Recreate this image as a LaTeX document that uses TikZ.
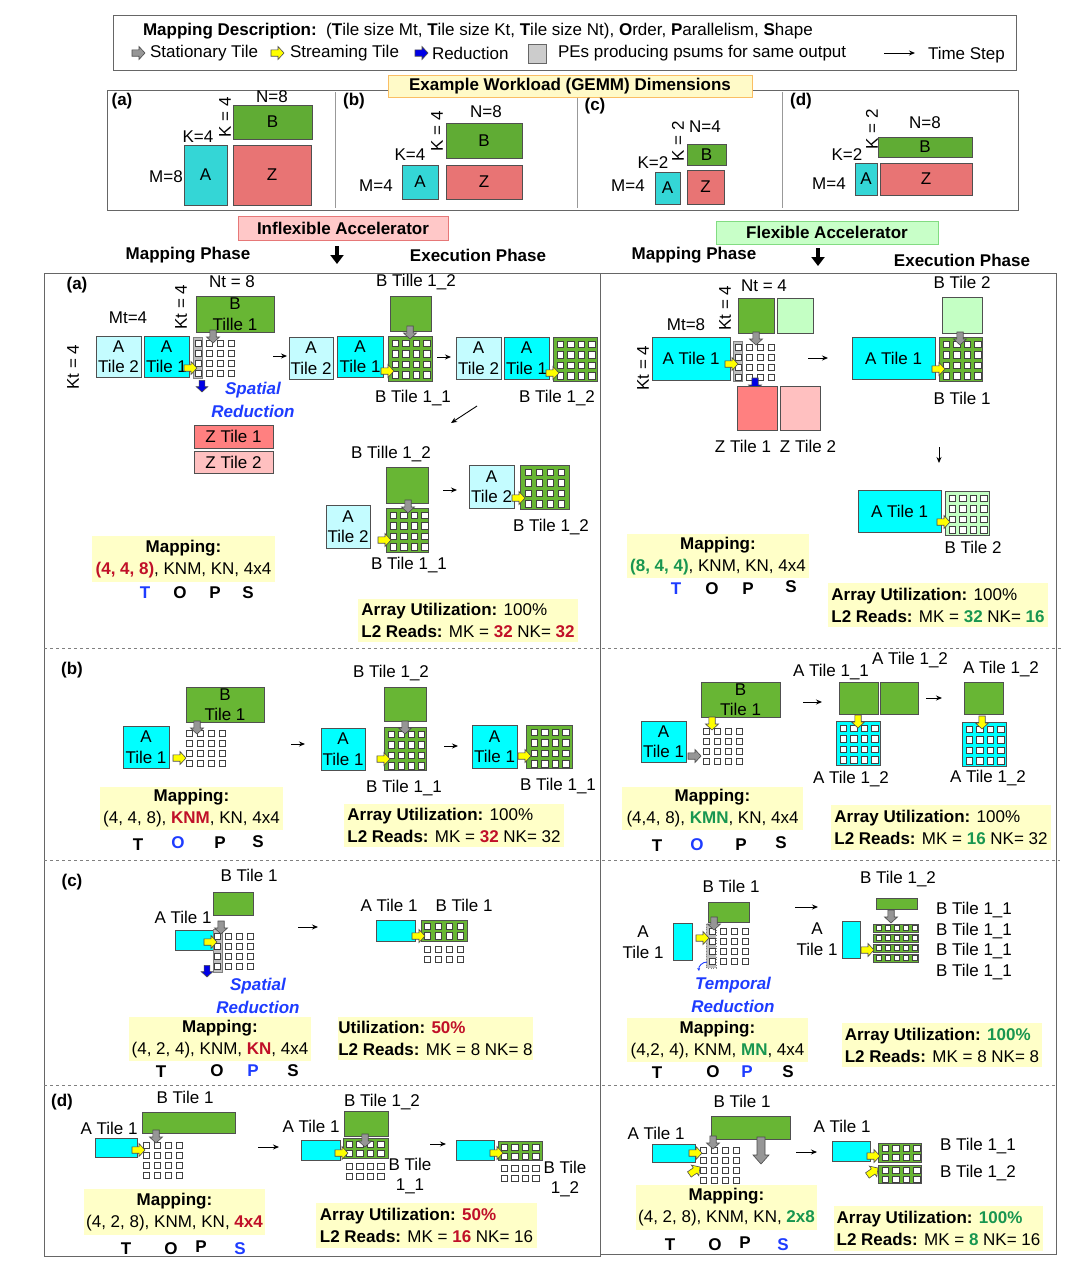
\documentclass[tikz,border=0pt]{standalone}
\usepackage{fontspec}
\setmainfont{Liberation Sans}
\usetikzlibrary{arrows.meta}
\definecolor{bgr}{RGB}{104,182,52}
\definecolor{bgrl}{RGB}{196,255,196}
\definecolor{acy}{RGB}{0,255,255}
\definecolor{acyl}{RGB}{196,252,255}
\definecolor{zr}{RGB}{255,128,128}
\definecolor{zrl}{RGB}{255,192,192}
\definecolor{wa}{RGB}{52,214,214}
\definecolor{wb}{RGB}{96,172,52}
\definecolor{wz}{RGB}{232,116,116}
\definecolor{yb}{RGB}{255,255,200}
\definecolor{dred}{RGB}{192,16,40}
\definecolor{dgrn}{RGB}{24,150,80}
\definecolor{tblue}{RGB}{30,60,255}
\definecolor{edge}{RGB}{80,80,80}
\definecolor{gar}{RGB}{150,150,150}
\definecolor{yar}{RGB}{255,255,0}
\definecolor{bar}{RGB}{0,0,230}
\newcommand{\fs}{\fontsize{17}{20.5}\selectfont}
\newcommand{\fsb}{\fontsize{17}{22}\selectfont}
\tikzset{
  every node/.style={font=\fs, inner sep=0pt, outer sep=0pt},
  tb/.style={draw=edge, line width=0.9pt, align=center},
  pe/.style={fill=white, draw=black!75, line width=0.7pt},
  ts/.style={-{Stealth[length=6pt,width=5pt]}, line width=0.9pt},
  ybx/.style={fill=yb, align=center, font=\fsb},
  ubx/.style={fill=yb, align=left, font=\fsb},
  tops/.style={font=\fs\bfseries},
  sred/.style={text=tblue, font=\fs\bfseries\itshape},
  psum/.style={fill=black!25, draw=black!50, line width=0.7pt},
  frame/.style={draw=black!60, line width=1pt},
  harr/.style={-{Triangle[length=9pt,width=13pt]}, line width=3.5pt},
}
\newcommand{\bx}[7]{\node[tb, fill=#6, minimum width={(#4-#2)*1pt}, minimum height={(#5-#3)*1pt}] (#1) at ({(#2+#4)/2},{(#3+#5)/2}) {#7};}
\newcommand{\yb}[7]{\node[#6, minimum width={(#4-#2)*1pt}, minimum height={(#5-#3)*1pt}] (#1) at ({(#2+#4)/2},{(#3+#5)/2}) {#7};}
\newcommand{\grid}[6]{\foreach \ii in {1,...,#3}{\foreach \jj in {1,...,#4}{\draw[pe] ({#1+(\ii-1)*#5},{#2+(\jj-1)*#6}) rectangle ++(6.5,6.5);}}}
\newcommand{\barr}[5]{\draw[fill=#4, draw=black!70, line width=0.6pt, shift={(#1,#2)}, rotate=#3, scale=#5] (0,0) -- (-6,-6.5) -- (-6,-3.2) -- (-13,-3.2) -- (-13,3.2) -- (-6,3.2) -- (-6,6.5) -- cycle;}
\begin{document}
\begin{tikzpicture}[x=1pt,y=-1pt]
\useasboundingbox (0,0) rectangle (1090,1267);
\fill[white] (0,0) rectangle (1090,1267);
% ---------------- legend
\draw[frame] (113,15) rectangle (1016,70);
\node[anchor=west] (desc) at (143,31) {\textbf{Mapping Description:}\ \ (\textbf{T}ile size Mt, \textbf{T}ile size Kt, \textbf{T}ile size Nt), \textbf{O}rder, \textbf{P}arallelism, \textbf{S}hape};
\barr{145}{53}{0}{gar}{1}
\node[anchor=west] (lg1) at (150,53) {Stationary Tile};
\barr{284}{53}{0}{yar}{1}
\node[anchor=west] (lg2) at (290,53) {Streaming Tile};
\barr{428}{53}{0}{bar}{1}
\node[anchor=west] (lg3) at (432,53) {Reduction};
\draw[fill=black!20, draw=black!60] (528,44) rectangle (546,63);
\node[anchor=west] (lg4) at (558,53) {PEs producing psums for same output};
\draw[ts] (884,53) -- (915,53);
\node[anchor=west] (lg5) at (928,55) {Time Step};
% ---------------- workload
\draw[frame] (107,90) rectangle (1018,210);
\draw[black!40, line width=0.8pt] (335,92) -- (335,208) (577,92) -- (577,208) (782,92) -- (782,208);
\node[fill={rgb,255:red,255;green,250;blue,200}, draw={rgb,255:red,250;green,190;blue,100}, line width=0.8pt, minimum width=364, minimum height=22] (wtitle) at (570,86) {\textbf{Example Workload (GEMM) Dimensions}};
\node (wla) at (122,101) {\textbf{(a)}};
\node (wlb) at (354,101) {\textbf{(b)}};
\node (wlc) at (595,106) {\textbf{(c)}};
\node (wld) at (801,101) {\textbf{(d)}};
% (a)
\bx{waB}{233}{105}{312}{139}{wb}{B}
\node (waN) at (272,97) {N=8};
\node[rotate=90] (waK1) at (225,117) {K = 4};
\bx{waA}{184}{145}{227}{205}{wa}{A}
\node (waK2) at (198,137) {K=4};
\node (waM) at (166,177) {M=8};
\bx{waZ}{233}{145}{311}{205}{wz}{Z}
% (b)
\bx{wbB}{446}{123}{522}{158}{wb}{B}
\node (wbN) at (486,112) {N=8};
\node[rotate=90] (wbK1) at (437,131) {K = 4};
\bx{wbA}{402}{165}{438}{199}{wa}{A}
\node (wbK2) at (410,155) {K=4};
\node (wbM) at (376,186) {M=4};
\bx{wbZ}{446}{165}{522}{199}{wz}{Z}
% (c)
\bx{wcB}{687}{144}{726}{165}{wb}{B}
\node (wcN) at (705,127) {N=4};
\node[rotate=90] (wcK1) at (678,141) {K = 2};
\bx{wcA}{655}{172}{680}{204}{wa}{A}
\node (wcK2) at (653,163) {K=2};
\node (wcM) at (628,186) {M=4};
\bx{wcZ}{687}{170}{724}{204}{wz}{Z}
% (d)
\bx{wdB}{878}{137}{972}{157}{wb}{B}
\node (wdN) at (925,123) {N=8};
\node[rotate=90] (wdK1) at (872,129) {K = 2};
\bx{wdA}{855}{163}{877}{195}{wa}{A}
\node (wdK2) at (847,155) {K=2};
\node (wdM) at (829,184) {M=4};
\bx{wdZ}{880}{163}{972}{195}{wz}{Z}
% ---------------- headers
\node[fill={rgb,255:red,255;green,200;blue,200}, draw={rgb,255:red,230;green,120;blue,120}, line width=0.8pt, minimum width=210, minimum height=24] (infl) at (343,228) {\textbf{Inflexible Accelerator}};
\node (mp1) at (188,255) {\textbf{Mapping Phase}};
\node (ep1) at (478,255) {\textbf{Execution Phase}};
\draw[harr] (337,246) -- (337,264);
\node[fill={rgb,255:red,200;green,255;blue,200}, draw={rgb,255:red,130;green,220;blue,130}, line width=0.8pt, minimum width=222, minimum height=23] (flex) at (827,232.5) {\textbf{Flexible Accelerator}};
\node (mp2) at (694,255) {\textbf{Mapping Phase}};
\node (ep2) at (962,260) {\textbf{Execution Phase}};
\draw[harr] (818,248) -- (818,266);
% ---------------- frames
\draw[frame] (44,273) rectangle (600,1256);
\draw[frame] (600,273) rectangle (1056,1254);
\draw[dashed, black!50, line width=0.8pt] (44,648) -- (1062,648);
\draw[dashed, black!50, line width=0.8pt] (44,860) -- (1060,860);
\draw[dashed, black!50, line width=0.8pt] (44,1085) -- (1056,1085);
% ================= (a) left
\node (la) at (77,285) {\textbf{(a)}};
\node (aNt) at (232,282) {Nt = 8};
\node[rotate=90] (aKt1) at (181,307) {Kt = 4};
\node (aMt) at (128,318) {Mt=4};
\node[rotate=90] (aKt2) at (73,367) {Kt = 4};
\bx{a1B}{196}{296}{274}{332}{bgr}{B\\Tille 1}
\bx{a1A2}{96}{336}{141}{377}{acyl}{A\\Tile 2}
\bx{a1A1}{144}{336}{189}{377}{acy}{A\\Tile 1}
\draw[psum] (193,337) rectangle (202,378);
\grid{195}{340}{4}{4}{11}{10}
\barr{213}{343}{-90}{gar}{1}
\barr{197}{368}{0}{yar}{1}
\barr{202}{392}{-90}{bar}{0.9}
\node[sred] (asr1) at (253,390) {Spatial};
\node[sred] (asr2) at (253,411) {Reduction};
\bx{a1Z1}{194}{425}{273}{448}{zr}{Z Tile 1}
\bx{a1Z2}{194}{451}{273}{473}{zrl}{Z Tile 2}
\draw[ts] (273,356) -- (287,356);
\bx{a2A2}{289}{337}{333}{379}{acyl}{A\\Tile 2}
\bx{a2A1}{337}{336}{383}{377}{acy}{A\\Tile 1}
\bx{a2G}{388}{336}{432}{381}{bgr}{}
\grid{392}{340}{4}{4}{10.5}{10.5}
\bx{a2B}{390}{296}{431}{331}{bgr}{}
\node (a2Bl) at (416,282) {B Tille 1\_2};
\barr{410}{339}{-90}{gar}{1}
\barr{394}{371}{0}{yar}{1}
\node (a2Gl) at (413,398) {B Tile 1\_1};
\draw[ts] (437,357) -- (451,357);
\bx{a3A2}{456}{337}{501}{379}{acyl}{A\\Tile 2}
\bx{a3A1}{504}{337}{549}{379}{acy}{A\\Tile 1}
\bx{a3G}{553}{337}{597}{381}{bgr}{}
\grid{557}{341}{4}{4}{10.5}{10.5}
\barr{559}{373}{0}{yar}{1}
\node (a3Gl) at (557,398) {B Tile 1\_2};
\draw[ts] (477,406) -- (451,423);
\node (a4Bl) at (391,454) {B Tille 1\_2};
\bx{a4B}{386}{467}{428}{503}{bgr}{}
\bx{a4G}{386}{508}{428}{552}{bgr}{}
\grid{390}{512}{4}{4}{10.5}{10.5}
\barr{408}{513}{-90}{gar}{1}
\bx{a4A}{326}{505}{370}{548}{acyl}{A\\Tile 2}
\barr{391}{540}{0}{yar}{1}
\node (a4Gl) at (409,565) {B Tile 1\_1};
\draw[ts] (443,490) -- (457,490);
\bx{a5A}{469}{465}{514}{508}{acyl}{A\\Tile 2}
\bx{a5G}{520}{465}{569}{509}{bgr}{}
\grid{525}{469}{4}{4}{11}{10.5}
\barr{525}{498}{0}{yar}{1}
\node (a5Gl) at (551,527) {B Tile 1\_2};
\yb{amap}{92}{536}{275}{582}{ybx}{\textbf{Mapping:}\\\textcolor{dred}{\textbf{(4, 4, 8)}}, KNM, KN, 4x4}
\node[tops, text=tblue] (aT) at (145,593) {T};
\node[tops] (aO) at (180,593) {O};
\node[tops] (aP) at (215,593) {P};
\node[tops] (aS) at (248,593) {S};
\yb{autil}{358}{599}{578}{642}{ubx}{\textbf{Array Utilization:} 100\%\\\textbf{L2 Reads:} MK = \textcolor{dred}{\textbf{32}} NK= \textcolor{dred}{\textbf{32}}}
% ================= (a) right
\node (rNt) at (764,286) {Nt = 4};
\node[rotate=90] (rKt1) at (725,308) {Kt = 4};
\bx{r1B1}{738}{298}{774}{333}{bgr}{}
\bx{r1B2}{777}{298}{813}{333}{bgrl}{}
\node (rMt) at (686,325) {Mt=8};
\node[rotate=90] (rKt2) at (643,368) {Kt = 4};
\bx{r1A}{652}{337}{730}{380}{acy}{A Tile 1}
\draw[psum] (733,341) rectangle (742,381);
\grid{735}{344}{4}{4}{11}{10}
\barr{756}{345}{-90}{gar}{1}
\barr{738}{364}{0}{yar}{1}
\barr{755}{391}{-90}{bar}{1}
\bx{r1Z1}{737}{386}{777}{430}{zr}{}
\bx{r1Z2}{780}{386}{820}{430}{zrl}{}
\node (rZ1l) at (743,446) {Z Tile 1};
\node (rZ2l) at (808,446) {Z Tile 2};
\draw[ts] (808,358) -- (828,358);
\bx{r2B}{942}{297}{982}{333}{bgrl}{}
\node (r2Bl) at (962,282) {B Tile 2};
\bx{r2A}{852}{337}{935}{379}{acy}{A Tile 1}
\bx{r2G}{939}{337}{982}{381}{bgr}{}
\grid{943}{341}{4}{4}{10.5}{10.5}
\barr{960}{345}{-90}{gar}{1}
\barr{945}{369}{0}{yar}{1}
\node (r2Gl) at (962,398) {B Tile 1};
\draw[ts] (939,447) -- (939,463);
\bx{r3A}{858}{490}{941}{532}{acy}{A Tile 1}
\bx{r3G}{945}{491}{989}{535}{bgrl}{}
\grid{949}{495}{4}{4}{10.5}{10.5}
\barr{950}{522}{0}{yar}{1}
\node (r3Gl) at (973,547) {B Tile 2};
\yb{rmap}{627}{534}{809}{578}{ybx}{\textbf{Mapping:}\\\textcolor{dgrn}{\textbf{(8, 4, 4)}}, KNM, KN, 4x4}
\node[tops, text=tblue] (rT) at (676,589) {T};
\node[tops] (rO) at (712,589) {O};
\node[tops] (rP) at (748,589) {P};
\node[tops] (rS) at (791,587) {S};
\yb{rutil}{828}{583}{1048}{627}{ubx}{\textbf{Array Utilization:} 100\%\\\textbf{L2 Reads:} MK = \textcolor{dgrn}{\textbf{32}} NK= \textcolor{dgrn}{\textbf{16}}}
% ================= (b) left
\node (lb) at (72,670) {\textbf{(b)}};
\bx{b1B}{186}{687}{264}{722}{bgr}{B\\Tile 1}
\bx{b1A}{123}{726}{169}{768}{acy}{A\\Tile 1}
\grid{186}{730}{4}{4}{11}{10}
\barr{197}{734}{-90}{gar}{1}
\barr{186}{758}{0}{yar}{1}
\draw[ts] (291,744) -- (305,744);
\bx{b2A}{321}{728}{365}{770}{acy}{A\\Tile 1}
\bx{b2G}{384}{727}{426}{770}{bgr}{}
\grid{388}{731}{4}{4}{10}{10.5}
\bx{b2B}{384}{687}{426}{721}{bgr}{}
\node (b2Bl) at (391,673) {B Tile 1\_2};
\barr{405}{734}{-90}{gar}{1}
\barr{390}{759}{0}{yar}{1}
\node (b2Gl) at (404,788) {B Tile 1\_1};
\draw[ts] (444,746) -- (458,746);
\bx{b3A}{472}{725}{517}{768}{acy}{A\\Tile 1}
\bx{b3G}{526}{725}{572}{768}{bgr}{}
\grid{531}{729}{4}{4}{10.5}{10.5}
\barr{531}{756}{0}{yar}{1}
\node (b3Gl) at (558,786) {B Tile 1\_1};
\yb{bmap}{100}{787}{283}{830}{ybx}{\textbf{Mapping:}\\(4, 4, 8), \textcolor{dred}{\textbf{KNM}}, KN, 4x4}
\node[tops] (bT) at (138,845) {T};
\node[tops, text=tblue] (bO) at (178,843) {O};
\node[tops] (bP) at (220,843) {P};
\node[tops] (bS) at (258,842) {S};
\yb{butil}{344}{804}{564}{847}{ubx}{\textbf{Array Utilization:} 100\%\\\textbf{L2 Reads:} MK = \textcolor{dred}{\textbf{32}} NK= 32}
% ================= (b) right
\bx{s1B}{701}{682}{780}{717}{bgr}{B\\Tile 1}
\bx{s1A}{641}{721}{686}{762}{acy}{A\\Tile 1}
\grid{703}{728}{4}{4}{11}{10}
\barr{712}{730}{-90}{yar}{1}
\barr{701}{756}{0}{gar}{1}
\draw[ts] (803,702) -- (822,702);
\node (s2l1) at (831,672) {A Tile 1\_1};
\node (s2l2) at (910,660) {A Tile 1\_2};
\bx{s2B1}{839}{682}{878}{714}{bgr}{}
\bx{s2B2}{880}{682}{918}{714}{bgr}{}
\bx{s2G}{836}{721}{880}{765}{acy}{}
\grid{840}{725}{4}{4}{10.5}{10.5}
\barr{858}{728}{-90}{yar}{1}
\node (s2Gl) at (851,779) {A Tile 1\_2};
\draw[ts] (926,698) -- (942,698);
\node (s3l) at (1001,669) {A Tile 1\_2};
\bx{s3B}{964}{682}{1003}{714}{bgr}{}
\bx{s3G}{962}{722}{1006}{766}{acy}{}
\grid{966}{726}{4}{4}{10.5}{10.5}
\barr{982}{729}{-90}{yar}{1}
\node (s3Gl) at (988,778) {A Tile 1\_2};
\yb{smap}{622}{787}{803}{830}{ybx}{\textbf{Mapping:}\\(4,4, 8), \textcolor{dgrn}{\textbf{KMN}}, KN, 4x4}
\node[tops] (sT) at (657,846) {T};
\node[tops, text=tblue] (sO) at (697,845) {O};
\node[tops] (sP) at (741,845) {P};
\node[tops] (sS) at (781,843) {S};
\yb{sutil}{831}{805}{1051}{850}{ubx}{\textbf{Array Utilization:} 100\%\\\textbf{L2 Reads:} MK = \textcolor{dgrn}{\textbf{16}} NK= 32}
% ================= (c) left
\node (lc) at (72,882) {\textbf{(c)}};
\node (c1Bl) at (249,875) {B Tile 1};
\bx{c1B}{213}{892}{253}{915}{bgr}{}
\node (c1Al) at (183,917) {A Tile 1};
\bx{c1A}{175}{930}{214}{950}{acy}{}
\draw[psum] (213,929) rectangle (222,972);
\grid{214}{933}{4}{4}{11}{10}
\barr{221}{934}{-90}{gar}{1}
\barr{217}{942}{0}{yar}{1}
\barr{207}{977}{-90}{bar}{0.9}
\node[sred] (csr1) at (258,986) {Spatial};
\node[sred] (csr2) at (258,1007) {Reduction};
\draw[ts] (298,927) -- (318,927);
\node (c2Al) at (389,905) {A Tile 1};
\node (c2Bl) at (464,905) {B Tile 1};
\bx{c2A}{376}{920}{415}{941}{acy}{}
\bx{c2G}{421}{920}{467}{941}{bgr}{}
\grid{424}{923}{4}{2}{11}{9.5}
\grid{424}{946}{4}{2}{11}{10}
\barr{425}{936}{0}{yar}{1}
\yb{cmap}{129}{1017}{311}{1061}{ybx}{\textbf{Mapping:}\\(4, 2, 4), KNM, \textcolor{dred}{\textbf{KN}}, 4x4}
\node[tops] (cT) at (161,1072) {T};
\node[tops] (cO) at (217,1071) {O};
\node[tops, text=tblue] (cP) at (253,1071) {P};
\node[tops] (cS) at (293,1071) {S};
\yb{cutil}{341}{1017}{530}{1060}{ubx}{\textbf{Utilization:} \textcolor{dred}{\textbf{50\%}}\\\textbf{L2 Reads:} MK = 8 NK= 8}
% ================= (c) right
\node (t1Bl) at (731,886) {B Tile 1};
\bx{t1B}{708}{902}{749}{922}{bgr}{}
\node[align=center] (t1Al) at (643,942) {A\\Tile 1};
\bx{t1A}{673}{923}{692}{960}{acy}{}
\draw[psum, dotted] (706,924) rectangle (716,968);
\grid{709}{928}{4}{4}{11}{10}
\barr{714}{930}{-90}{gar}{1}
\barr{709}{938}{0}{yar}{1}
\draw[tblue, -{Stealth[length=3pt,width=3pt]}, line width=0.9pt] (707,962) to[bend right=50] (699,971);
\node[sred] (tsr1) at (733,985) {Temporal};
\node[sred] (tsr2) at (733,1006) {Reduction};
\draw[ts] (795,907) -- (818,907);
\node[align=center] (t2Al) at (817,939) {A\\Tile 1};
\bx{t2A}{842}{921}{860}{958}{acy}{}
\bx{t2B}{876}{898}{917}{909}{bgr}{}
\node (t2Bl) at (898,879) {B Tile 1\_2};
\barr{891}{923}{-90}{gar}{1}
\foreach \yy in {924,934,944,954}{
  \draw[tb, fill=bgr] (873,\yy) rectangle (918,\yy+8);
  \foreach \xx in {876,885,894,903,912}{\draw[pe, line width=0.5pt] (\xx,\yy+1.5) rectangle ++(5,5);}
}
\barr{874}{950}{0}{yar}{1}
\node[anchor=west] (t3l1) at (936,910) {B Tile 1\_1};
\node[anchor=west] (t3l2) at (936,931) {B Tile 1\_1};
\node[anchor=west] (t3l3) at (936,951) {B Tile 1\_1};
\node[anchor=west] (t3l4) at (936,972) {B Tile 1\_1};
\yb{tmap}{627}{1018}{808}{1062}{ybx}{\textbf{Mapping:}\\(4,2, 4), KNM, \textcolor{dgrn}{\textbf{MN}}, 4x4}
\node[tops] (tT) at (657,1073) {T};
\node[tops] (tO) at (713,1072) {O};
\node[tops, text=tblue] (tP) at (747,1072) {P};
\node[tops] (tS) at (788,1072) {S};
\yb{tutil}{842}{1023}{1042}{1067}{ubx}{\textbf{Array Utilization:} \textcolor{dgrn}{\textbf{100\%}}\\\textbf{L2 Reads:} MK = 8 NK= 8}
% ================= (d) left
\node (ld) at (62,1102) {\textbf{(d)}};
\node (d1Bl) at (185,1097) {B Tile 1};
\bx{d1B}{142}{1112}{235}{1133}{bgr}{}
\node (d1Al) at (109,1128) {A Tile 1};
\bx{d1A}{95}{1138}{137}{1157}{acy}{}
\grid{143}{1142}{4}{4}{11}{10}
\barr{156}{1143}{-90}{gar}{1}
\barr{145}{1150}{0}{yar}{1}
\draw[ts] (258,1147) -- (279,1147);
\node (d2Bl) at (382,1102) {B Tile 1\_2};
\node (d2Al) at (311,1126) {A Tile 1};
\bx{d2B}{344}{1111}{388}{1136}{bgr}{}
\bx{d2A}{301}{1140}{340}{1160}{acy}{}
\bx{d2G}{343}{1138}{388}{1158}{bgr}{}
\grid{346}{1141}{4}{2}{10.5}{9}
\grid{346}{1163}{4}{2}{10.5}{10}
\barr{365}{1147}{-90}{gar}{1}
\barr{348}{1153}{0}{yar}{1}
\node[align=center] (d2Gl) at (410,1176) {B Tile\\1\_1};
\draw[ts] (430,1144) -- (446,1144);
\bx{d3A}{456}{1140}{494}{1160}{acy}{}
\bx{d3G}{498}{1141}{542}{1160}{bgr}{}
\grid{501}{1144}{4}{2}{10.5}{9}
\grid{501}{1165}{4}{2}{10.5}{10}
\barr{503}{1153}{0}{yar}{1}
\node[align=center] (d3Gl) at (565,1179) {B Tile\\1\_2};
\yb{dmap}{84}{1189}{265}{1235}{ybx}{\textbf{Mapping:}\\(4, 2, 8), KNM, KN, \textcolor{dred}{\textbf{4x4}}}
\node[tops] (dT) at (126,1249) {T};
\node[tops] (dO) at (171,1249) {O};
\node[tops] (dP) at (201,1247) {P};
\node[tops, text=tblue] (dS) at (240,1249) {S};
\yb{dutil}{316}{1203}{537}{1248}{ubx}{\textbf{Array Utilization:} \textcolor{dred}{\textbf{50\%}}\\\textbf{L2 Reads:} MK = \textcolor{dred}{\textbf{16}} NK= 16}
% ================= (d) right
\node (e1Bl) at (742,1101) {B Tile 1};
\bx{e1B}{711}{1116}{790}{1139}{bgr}{}
\node (e1Al) at (656,1133) {A Tile 1};
\bx{e1A}{652}{1144}{695}{1162}{acy}{}
\grid{700}{1147}{4}{4}{11}{10}
\barr{713}{1149}{-90}{gar}{1}
\draw[fill=gar, draw=black!70, line width=0.6pt, shift={(761,1164)}, rotate=-90] (0,0) -- (-9,-8) -- (-9,-4) -- (-27,-4) -- (-27,4) -- (-9,4) -- (-9,8) -- cycle;
\barr{702}{1153}{0}{yar}{1}
\barr{700}{1167}{35}{yar}{1}
\draw[ts] (796,1152) -- (817,1152);
\node (e2Al) at (842,1126) {A Tile 1};
\bx{e2A}{832}{1141}{870}{1161}{acy}{}
\bx{e2G1}{878}{1143}{921}{1162}{bgr}{}
\grid{882}{1145}{4}{2}{10.5}{9}
\bx{e2G2}{878}{1165}{921}{1183}{bgr}{}
\grid{882}{1167}{4}{2}{10.5}{9}
\barr{880}{1156}{0}{yar}{1}
\barr{878}{1168}{35}{yar}{1}
\node[anchor=west] (e2l1) at (940,1146) {B Tile 1\_1};
\node[anchor=west] (e2l2) at (940,1173) {B Tile 1\_2};
\yb{emap}{636}{1185}{817}{1230}{ybx}{\textbf{Mapping:}\\(4, 2, 8), KNM, KN, \textcolor{dgrn}{\textbf{2x8}}}
\node[tops] (eT) at (670,1245) {T};
\node[tops] (eO) at (715,1245) {O};
\node[tops] (eP) at (745,1243) {P};
\node[tops, text=tblue] (eS) at (783,1245) {S};
\yb{eutil}{834}{1206}{1043}{1251}{ubx}{\textbf{Array Utilization:} \textcolor{dgrn}{\textbf{100\%}}\\\textbf{L2 Reads:} MK = \textcolor{dgrn}{\textbf{8}} NK= 16}
\end{tikzpicture}
\end{document}
